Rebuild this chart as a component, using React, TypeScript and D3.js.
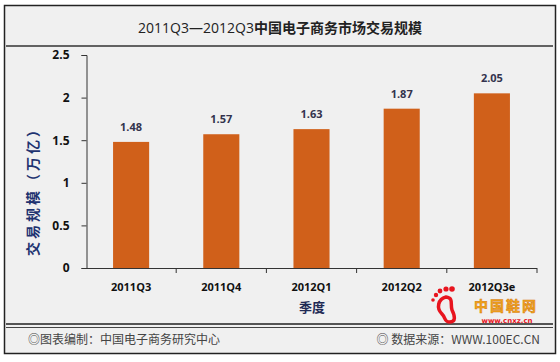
import React, { useEffect, useRef } from "react"
import * as d3 from "d3"

const quarters = ["2011Q3", "2011Q4", "2012Q1", "2012Q2", "2012Q3e"]
const values = [1.48, 1.57, 1.63, 1.87, 2.05]
const yTicks = [0, 0.5, 1, 1.5, 2, 2.5]

const W = 560
const H = 362
const cjk = "'Noto Sans CJK SC', sans-serif"
const num = "'Open Sans', 'Noto Sans', sans-serif"

const App = () => {
  const ref = useRef<SVGSVGElement>(null)

  useEffect(() => {
    const svg = d3.select(ref.current)
    svg.selectAll("*").remove()
    svg.attr("width", W).attr("height", H)

    // frame
    svg.append("rect").attr("width", W).attr("height", H).attr("fill", "#fff")
    svg
      .append("rect")
      .attr("x", 4.5)
      .attr("y", 5.5)
      .attr("width", 551)
      .attr("height", 348)
      .attr("fill", "#f0f0f0")
      .attr("stroke", "#222")
      .attr("stroke-width", 1.5)

    // header line
    svg
      .append("line")
      .attr("x1", 6)
      .attr("x2", 553)
      .attr("y1", 46)
      .attr("y2", 46)
      .attr("stroke", "#333")
      .attr("stroke-width", 1.5)

    // title
    const title = svg
      .append("text")
      .attr("x", 280)
      .attr("y", 33)
      .attr("text-anchor", "middle")
      .style("font-size", "14px")
      .attr("fill", "#222")
    title.append("tspan").style("font-family", num).text("2011Q3—2012Q3")
    title
      .append("tspan")
      .style("font-family", cjk)
      .style("font-weight", "bold")
      .text("中国电子商务市场交易规模")

    const x = d3.scaleBand().domain(quarters).range([86, 537]).paddingInner(0.6).paddingOuter(0.3)
    const y = d3.scaleLinear().domain([0, 2.5]).range([268, 55])

    // y axis
    const yAxis = svg
      .append("g")
      .attr("transform", "translate(86.5,0)")
      .call(d3.axisLeft(y).tickValues(yTicks).tickSize(5).tickPadding(12).tickFormat(d3.format("")))
    yAxis.select(".domain").attr("stroke", "#333")
    yAxis.selectAll("line").attr("stroke", "#333")
    yAxis
      .selectAll("text")
      .attr("fill", "#111")
      .style("font-family", num)
      .style("font-weight", "bold")
      .style("font-size", "12px")

    // x axis with boundary ticks
    const g = svg.append("g")
    g.append("line")
      .attr("x1", 86)
      .attr("x2", 537)
      .attr("y1", 268.5)
      .attr("y2", 268.5)
      .attr("stroke", "#333")
    const bounds = quarters.map((q) => (x(q) as number) + x.bandwidth() + (x.step() * 0.6) / 2)
    g.selectAll(".xt")
      .data(bounds)
      .join("line")
      .attr("x1", (d) => d)
      .attr("x2", (d) => d)
      .attr("y1", 268)
      .attr("y2", 273)
      .attr("stroke", "#333")

    // bars
    svg
      .selectAll(".bar")
      .data(values)
      .join("rect")
      .attr("x", (d, i) => x(quarters[i]) as number)
      .attr("y", (d) => y(d))
      .attr("width", x.bandwidth())
      .attr("height", (d) => y(0) - y(d))
      .attr("fill", "#d0601a")

    // value labels
    svg
      .selectAll(".val")
      .data(values)
      .join("text")
      .attr("x", (d, i) => (x(quarters[i]) as number) + x.bandwidth() / 2)
      .attr("y", (d) => y(d) - 11)
      .attr("text-anchor", "middle")
      .attr("fill", "#33334d")
      .style("font-family", num)
      .style("font-weight", "bold")
      .style("font-size", "11px")
      .text((d) => d.toFixed(2))

    // category labels
    svg
      .selectAll(".cat")
      .data(quarters)
      .join("text")
      .attr("x", (d) => (x(d) as number) + x.bandwidth() / 2)
      .attr("y", 291)
      .attr("text-anchor", "middle")
      .attr("fill", "#111")
      .style("font-family", num)
      .style("font-weight", "bold")
      .style("font-size", "11px")
      .text((d) => d)

    // axis titles
    svg
      .append("text")
      .attr("x", 312)
      .attr("y", 312)
      .attr("text-anchor", "middle")
      .attr("fill", "#1f2a55")
      .style("font-family", cjk)
      .style("font-weight", "bold")
      .style("font-size", "13px")
      .text("季度")
    svg
      .append("text")
      .attr("transform", "translate(38,188) rotate(-90)")
      .attr("text-anchor", "middle")
      .attr("fill", "#1f3370")
      .style("font-family", cjk)
      .style("font-weight", "bold")
      .style("font-size", "14px")
      .style("letter-spacing", "3px")
      .text("交易规模（万亿）")

    // footer lines
    svg.append("line").attr("x1", 6).attr("x2", 553).attr("y1", 324).attr("y2", 324).attr("stroke", "#222").attr("stroke-width", 1.5)
    svg.append("line").attr("x1", 6).attr("x2", 553).attr("y1", 327.5).attr("y2", 327.5).attr("stroke", "#444").attr("stroke-width", 1)

    svg
      .append("text")
      .attr("x", 28)
      .attr("y", 344)
      .attr("fill", "#444")
      .style("font-family", cjk)
      .style("font-size", "12px")
      .text("◎图表编制：中国电子商务研究中心")
    svg
      .append("text")
      .attr("x", 540)
      .attr("y", 344)
      .attr("text-anchor", "end")
      .attr("fill", "#444")
      .style("font-family", cjk)
      .style("font-size", "12px")
      .text("◎  数据来源：WWW.100EC.CN")

    // watermark logo
    const logo = svg.append("g")
    logo
      .append("path")
      .attr("d", "M446,297 C438,299 436,308 442,314 C446,318 444,322 450,322 C456,322 455,316 452,310 C450,304 454,298 446,297 Z")
      .attr("fill", "none")
      .attr("stroke", "#e8141e")
      .attr("stroke-width", 3.5)
    ;[[436, 295, 2.2], [440, 291, 2.4], [446, 289, 2.6], [452, 289, 2.8], [433, 300, 1.8]].forEach(([cx, cy, r]) =>
      logo.append("circle").attr("cx", cx).attr("cy", cy).attr("r", r).attr("fill", "#e8141e")
    )
    logo
      .append("text")
      .attr("x", 506)
      .attr("y", 311)
      .attr("text-anchor", "middle")
      .attr("fill", "#f2a81c")
      .attr("stroke", "#d87b10")
      .attr("stroke-width", 0.5)
      .style("font-family", cjk)
      .style("font-weight", "bold")
      .style("font-size", "14px")
      .style("letter-spacing", "2px")
      .text("中国鞋网")
    logo
      .append("text")
      .attr("x", 507)
      .attr("y", 323)
      .attr("text-anchor", "middle")
      .attr("fill", "#e8141e")
      .style("font-family", "'DejaVu Sans', sans-serif")
      .style("font-weight", "bold")
      .style("font-size", "7px")
      .text("www.cnxz.cn")
  }, [])

  return <svg ref={ref} style={{ position: "absolute", left: 0, top: 0 }}></svg>
}

export default App
